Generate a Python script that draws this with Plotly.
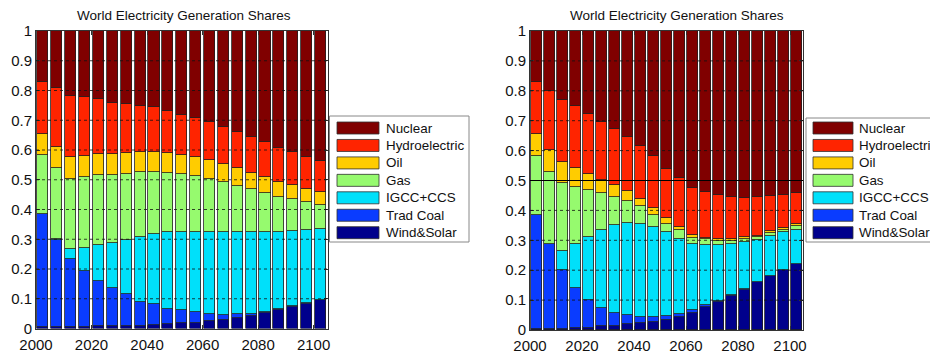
import plotly.graph_objects as go

# ---------------- data ----------------
years = [2002.5, 2007.5, 2012.5, 2017.5, 2022.5, 2027.5, 2032.5, 2037.5, 2042.5, 2047.5,
         2052.5, 2057.5, 2062.5, 2067.5, 2072.5, 2077.5, 2082.5, 2087.5, 2092.5, 2097.5, 2102.5]
x_tick_vals = [2000, 2020, 2040, 2060, 2080, 2100]
x_tick_text = ["2000", "2020", "2040", "2060", "2080", "2100"]
y_tick_vals = [0, 0.1, 0.2, 0.3, 0.4, 0.5, 0.6, 0.7, 0.8, 0.9, 1.0]
y_tick_text = ["0", "0.1", "0.2", "0.3", "0.4", "0.5", "0.6", "0.7", "0.8", "0.9", "1"]
grid_vals = [0.1, 0.2, 0.3, 0.4, 0.5, 0.6, 0.7, 0.8, 0.9]
ref_line_value = 0.5  # solid line in the right chart

title_text = "World Electricity Generation Shares"

# stacking order bottom -> top
series_names = ["Wind&Solar", "Trad Coal", "IGCC+CCS", "Gas", "Oil", "Hydroelectric", "Nuclear"]
series_colors = ["#00008C", "#0A3CFF", "#00E0FA", "#96FA6E", "#FFCC00", "#FF2400", "#800000"]

# left chart shares
left_wind = [0.005, 0.005, 0.005, 0.005, 0.008, 0.008, 0.009, 0.010, 0.012, 0.014, 0.017,
             0.020, 0.025, 0.028, 0.036, 0.041, 0.052, 0.063, 0.073, 0.083, 0.095]
left_coal = [0.380, 0.294, 0.228, 0.189, 0.151, 0.129, 0.106, 0.078, 0.071, 0.053, 0.046,
             0.036, 0.023, 0.019, 0.012, 0.009, 0.003, 0.001, 0.001, 0.002, 0.002]
left_igcc = [0.000, 0.001, 0.033, 0.077, 0.121, 0.152, 0.184, 0.220, 0.233, 0.257, 0.263,
             0.270, 0.278, 0.279, 0.278, 0.276, 0.271, 0.262, 0.254, 0.246, 0.236]
left_gas = [0.197, 0.238, 0.238, 0.237, 0.236, 0.227, 0.222, 0.219, 0.211, 0.200, 0.192,
            0.187, 0.176, 0.167, 0.154, 0.143, 0.128, 0.117, 0.107, 0.093, 0.081]
left_oil = [0.071, 0.073, 0.073, 0.073, 0.070, 0.069, 0.068, 0.067, 0.067, 0.065, 0.066,
            0.063, 0.064, 0.060, 0.060, 0.055, 0.056, 0.051, 0.049, 0.046, 0.045]
left_hydro = [0.177, 0.199, 0.204, 0.196, 0.185, 0.174, 0.164, 0.154, 0.149, 0.143, 0.135,
              0.130, 0.129, 0.125, 0.121, 0.121, 0.117, 0.114, 0.109, 0.107, 0.103]
left_nuclear = [0.170, 0.190, 0.219, 0.223, 0.229, 0.241, 0.247, 0.252, 0.257, 0.268, 0.281,
                0.294, 0.305, 0.322, 0.339, 0.355, 0.373, 0.392, 0.407, 0.423, 0.438]

# right chart shares
right_wind = [0.005, 0.005, 0.005, 0.008, 0.008, 0.012, 0.012, 0.020, 0.022, 0.028, 0.032,
              0.043, 0.058, 0.078, 0.095, 0.115, 0.135, 0.159, 0.180, 0.200, 0.221]
right_coal = [0.379, 0.281, 0.197, 0.133, 0.094, 0.061, 0.044, 0.029, 0.021, 0.015, 0.015,
              0.009, 0.008, 0.004, 0.002, 0.001, 0.001, 0.001, 0.001, 0.001, 0.001]
right_igcc = [0.000, 0.002, 0.062, 0.145, 0.209, 0.263, 0.294, 0.309, 0.313, 0.302, 0.280,
              0.254, 0.223, 0.203, 0.188, 0.170, 0.158, 0.140, 0.135, 0.126, 0.114]
right_gas = [0.199, 0.239, 0.228, 0.191, 0.156, 0.122, 0.094, 0.072, 0.058, 0.041, 0.029,
             0.028, 0.019, 0.018, 0.014, 0.013, 0.012, 0.011, 0.009, 0.009, 0.011]
right_oil = [0.072, 0.075, 0.069, 0.065, 0.056, 0.043, 0.040, 0.034, 0.024, 0.022, 0.017,
             0.011, 0.011, 0.005, 0.006, 0.006, 0.004, 0.005, 0.005, 0.005, 0.006]
right_hydro = [0.176, 0.199, 0.209, 0.208, 0.199, 0.196, 0.188, 0.183, 0.176, 0.173, 0.167,
               0.162, 0.156, 0.154, 0.148, 0.140, 0.132, 0.129, 0.119, 0.112, 0.104]
right_nuclear = [0.169, 0.199, 0.230, 0.250, 0.278, 0.303, 0.328, 0.353, 0.386, 0.419, 0.460,
                 0.493, 0.525, 0.538, 0.547, 0.555, 0.558, 0.555, 0.551, 0.547, 0.543]

left_series = [left_wind, left_coal, left_igcc, left_gas, left_oil, left_hydro, left_nuclear]
right_series = [right_wind, right_coal, right_igcc, right_gas, right_oil, right_hydro, right_nuclear]

# ---------------- figure ----------------
# the page body has an 8px default margin, so the figure is sized to fill the
# remaining viewport and all layout positions are given in window pixels
OFF = 8
W, H = 938 - OFF, 355 - OFF
FONT = "Liberation Sans, Arial, Helvetica, sans-serif"


def px(x):
    return (x - OFF) / W


def py(y):
    return 1 - (y - OFF) / H


fig = go.Figure()
for vals, name, col in zip(left_series, series_names, series_colors):
    fig.add_trace(go.Bar(x=years, y=vals, name=name, width=4.0, xaxis="x", yaxis="y",
                         marker=dict(color=col, line=dict(color="#202020", width=0.8)),
                         showlegend=False))
for vals, name, col in zip(right_series, series_names, series_colors):
    fig.add_trace(go.Bar(x=years, y=vals, name=name, width=4.0, xaxis="x2", yaxis="y2",
                         marker=dict(color=col, line=dict(color="#202020", width=0.8)),
                         showlegend=False))

axis_common = dict(showline=True, mirror="ticks", linecolor="#333333", linewidth=1,
                   ticks="inside", ticklen=4, tickcolor="#333333", showgrid=False,
                   zeroline=False, automargin=False,
                   tickfont=dict(family=FONT, size=15, color="#111111"))

fig.update_layout(
    width=W, height=H,
    margin=dict(l=0, r=0, t=0, b=0, pad=0),
    paper_bgcolor="white", plot_bgcolor="white",
    barmode="stack", bargap=0,
    showlegend=False,
    xaxis=dict(domain=[px(36), px(327.5)], range=[2000, 2105], anchor="y",
               tickvals=x_tick_vals, ticktext=x_tick_text, ticklabelstandoff=2, **axis_common),
    yaxis=dict(domain=[py(328.5), py(31)], range=[0, 1], anchor="x",
               tickvals=y_tick_vals, ticktext=y_tick_text, **axis_common),
    xaxis2=dict(domain=[px(530), px(803)], range=[2000, 2105], anchor="y2",
                tickvals=x_tick_vals, ticktext=x_tick_text, ticklabelstandoff=2, **axis_common),
    yaxis2=dict(domain=[py(330), py(31)], range=[0, 1], anchor="x2",
                tickvals=y_tick_vals, ticktext=y_tick_text, **axis_common),
)

shapes = []
# gridlines drawn above the bars (as in the reference)
for xr, yr in (("x domain", "y"), ("x2 domain", "y2")):
    for v in grid_vals:
        shapes.append(dict(type="line", xref=xr, yref=yr, x0=0, x1=1, y0=v, y1=v,
                           line=dict(color="#111111", width=0.8, dash="3px,3px"), layer="above"))
shapes.append(dict(type="line", xref="x2 domain", yref="y2", x0=0, x1=1,
                   y0=ref_line_value, y1=ref_line_value,
                   line=dict(color="#000000", width=1.2), layer="above"))

annotations = []
# titles
for cx in (184, 677):
    annotations.append(dict(text=title_text, xref="paper", yref="paper", x=px(cx), y=py(15),
                            xanchor="center", yanchor="middle", showarrow=False,
                            font=dict(family=FONT, size=13.5, color="#111111")))

# custom legends (top -> bottom: Nuclear ... Wind&Solar)
legend_order = list(range(len(series_names)))[::-1]
legend_boxes = [dict(x0=329.5, x1=469, y0=116, y1=242, sw0=337, sw1=379, tx=384),
                dict(x0=806, x1=936, y0=118, y1=242, sw0=813, sw1=853, tx=857)]
row_first, row_pitch, sw_h = 128.0, 17.45, 12.0
for lb in legend_boxes:
    shapes.append(dict(type="rect", xref="paper", yref="paper",
                       x0=px(lb["x0"]), x1=px(lb["x1"]), y0=py(lb["y1"]), y1=py(lb["y0"]),
                       line=dict(color="#888888", width=1), fillcolor="white", layer="above"))
    for r, k in enumerate(legend_order):
        cy = row_first + r * row_pitch
        shapes.append(dict(type="rect", xref="paper", yref="paper",
                           x0=px(lb["sw0"]), x1=px(lb["sw1"]),
                           y0=py(cy + sw_h / 2), y1=py(cy - sw_h / 2),
                           line=dict(color="#303030", width=0.8),
                           fillcolor=series_colors[k], layer="above"))
        annotations.append(dict(text=series_names[k], xref="paper", yref="paper",
                                x=px(lb["tx"]), y=py(cy), xanchor="left", yanchor="middle",
                                showarrow=False,
                                font=dict(family=FONT, size=13.4, color="#111111")))

fig.update_layout(shapes=shapes, annotations=annotations)
fig.write_html("out.html")
